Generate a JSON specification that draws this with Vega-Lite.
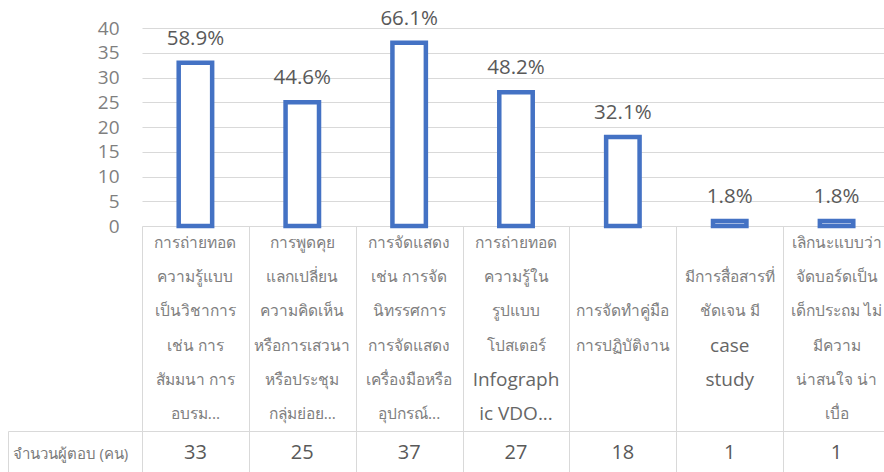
{
  "$schema": "https://vega.github.io/schema/vega-lite/v6.json",
  "background": "white",
  "padding": {"left": 7, "top": 8, "right": 0, "bottom": 0},
  "spacing": 0,
  "bounds": "flush",
  "config": {"view": {"stroke": null}, "font": "Open Sans"},
  "datasets": {
    "bars": [
      {"id": 1, "n": 33, "pct": "58.9%"},
      {"id": 2, "n": 25, "pct": "44.6%"},
      {"id": 3, "n": 37, "pct": "66.1%"},
      {"id": 4, "n": 27, "pct": "48.2%"},
      {"id": 5, "n": 18, "pct": "32.1%"},
      {"id": 6, "n": 1, "pct": "1.8%"},
      {"id": 7, "n": 1, "pct": "1.8%"}
    ],
    "lines": [
      {"id": 1, "line": 1, "t": "การถ่ายทอด"},
      {"id": 1, "line": 2, "t": "ความรู้แบบ"},
      {"id": 1, "line": 3, "t": "เป็นวิชาการ"},
      {"id": 1, "line": 4, "t": "เช่น การ"},
      {"id": 1, "line": 5, "t": "สัมมนา  การ"},
      {"id": 1, "line": 6, "t": "อบรม..."},
      {"id": 2, "line": 1, "t": "การพูดคุย"},
      {"id": 2, "line": 2, "t": "แลกเปลี่ยน"},
      {"id": 2, "line": 3, "t": "ความคิดเห็น"},
      {"id": 2, "line": 4, "t": "หรือการเสวนา"},
      {"id": 2, "line": 5, "t": "หรือประชุม"},
      {"id": 2, "line": 6, "t": "กลุ่มย่อย..."},
      {"id": 3, "line": 1, "t": "การจัดแสดง"},
      {"id": 3, "line": 2, "t": "เช่น การจัด"},
      {"id": 3, "line": 3, "t": "นิทรรศการ"},
      {"id": 3, "line": 4, "t": "การจัดแสดง"},
      {"id": 3, "line": 5, "t": "เครื่องมือหรือ"},
      {"id": 3, "line": 6, "t": "อุปกรณ์..."},
      {"id": 4, "line": 1, "t": "การถ่ายทอด"},
      {"id": 4, "line": 2, "t": "ความรู้ใน"},
      {"id": 4, "line": 3, "t": "รูปแบบ"},
      {"id": 4, "line": 4, "t": "โปสเตอร์"},
      {"id": 4, "line": 5, "t": "Infograph"},
      {"id": 4, "line": 6, "t": "ic  VDO..."},
      {"id": 5, "line": 3, "t": "การจัดทำคู่มือ"},
      {"id": 5, "line": 4, "t": "การปฏิบัติงาน"},
      {"id": 6, "line": 2, "t": "มีการสื่อสารที่"},
      {"id": 6, "line": 3, "t": "ชัดเจน มี"},
      {"id": 6, "line": 4, "t": "case"},
      {"id": 6, "line": 5, "t": "study"},
      {"id": 7, "line": 1, "t": "เลิกนะแบบว่า"},
      {"id": 7, "line": 2, "t": "จัดบอร์ดเป็น"},
      {"id": 7, "line": 3, "t": "เด็กประถม ไม่"},
      {"id": 7, "line": 4, "t": "มีความ"},
      {"id": 7, "line": 5, "t": "น่าสนใจ น่า"},
      {"id": 7, "line": 6, "t": "เบื่อ"}
    ]
  },
  "vconcat": [
    {
      "width": 748,
      "height": 198,
      "data": {"name": "bars"},
      "encoding": {
        "x": {"field": "id", "type": "ordinal", "axis": null,
              "scale": {"domain": [1, 2, 3, 4, 5, 6, 7], "paddingInner": 0, "paddingOuter": 0}},
        "y": {"field": "n", "type": "quantitative",
              "scale": {"domain": [0, 40], "nice": false},
              "axis": {"values": [0, 5, 10, 15, 20, 25, 30, 35, 40], "grid": true, "gridColor": "#d9d9d9",
                       "domain": false, "ticks": false, "labelFontSize": 19, "labelColor": "#7f7f7f",
                       "labelPadding": 23, "labelOverlap": false, "title": null}}
      },
      "layer": [
        {
          "mark": {"type": "bar", "fill": "white", "stroke": "#4472c4", "strokeWidth": 4.5, "width": {"band": 0.313}}
        },
        {
          "mark": {"type": "text", "dy": -18, "baseline": "alphabetic", "fontSize": 20.5, "color": "#595959"},
          "encoding": {
            "text": {"field": "pct"}
          }
        }
      ]
    },
    {
      "width": 748,
      "height": 205,
      "data": {"name": "lines"},
      "mark": {"type": "text", "baseline": "middle"},
      "encoding": {
        "x": {"field": "id", "type": "ordinal",
              "scale": {"domain": [1, 2, 3, 4, 5, 6, 7], "paddingInner": 0, "paddingOuter": 0},
              "axis": {"grid": true, "tickBand": "extent", "gridColor": "#d9d9d9", "labels": false,
                       "ticks": false, "domain": false, "title": null}},
        "y": {"field": "line", "type": "ordinal",
              "scale": {"domain": [1, 2, 3, 4, 5, 6], "paddingInner": 0, "paddingOuter": 0.07},
              "axis": null},
        "text": {"field": "t"},
        "size": {"condition": {"test": "test(/^[A-Za-z]/, datum.t)", "value": 19}, "value": 15.5},
        "color": {"condition": {"test": "test(/^[A-Za-z]/, datum.t)", "value": "#666666"}, "value": "#808080"}
      }
    },
    {
      "width": 748,
      "height": 44,
      "data": {"name": "bars"},
      "resolve": {"axis": {"y": "independent"}},
      "layer": [
        {
          "mark": {"type": "text", "fontSize": 20, "color": "#595959"},
          "encoding": {
            "x": {"field": "id", "type": "ordinal",
                  "scale": {"domain": [1, 2, 3, 4, 5, 6, 7], "paddingInner": 0, "paddingOuter": 0},
                  "axis": {"orient": "top", "grid": true, "tickBand": "extent", "gridColor": "#d9d9d9",
                           "labels": false, "ticks": false, "domain": true, "domainColor": "#d9d9d9", "title": null}},
            "y": {"datum": "จำนวนผู้ตอบ (คน)", "type": "nominal",
                  "scale": {"paddingInner": 0, "paddingOuter": 0},
                  "axis": {"title": null, "tickBand": "extent", "tickSize": 134, "tickColor": "#d9d9d9",
                           "domain": true, "domainColor": "#d9d9d9", "labelAlign": "left", "labelPadding": -4,
                           "labelFontSize": 15, "labelFontWeight": "normal", "labelColor": "#7a7a7a"}},
            "text": {"field": "n"}
          }
        },
        {
          "mark": {"type": "text"},
          "encoding": {
            "y": {"datum": "จำนวนผู้ตอบ (คน)", "type": "nominal",
                  "axis": {"orient": "left", "offset": 134, "title": null, "labels": false, "ticks": false,
                           "domain": true, "domainColor": "#d9d9d9"}},
            "text": {"value": ""}
          }
        }
      ]
    }
  ]
}
